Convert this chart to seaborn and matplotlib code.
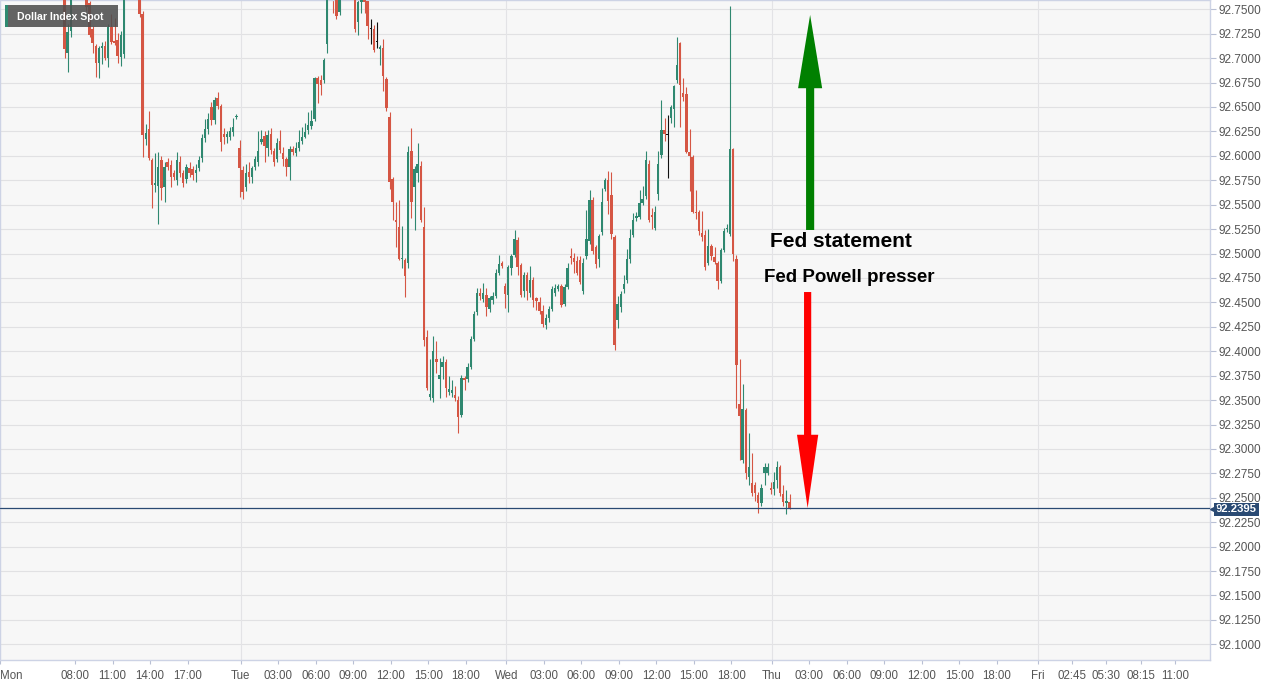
import numpy as np
import pandas as pd
import seaborn as sns
import matplotlib
matplotlib.use('Agg')
from matplotlib import pyplot as plt
from matplotlib.patches import Rectangle

sns.set_theme(style='white')
plt.rcParams['font.family'] = ['Liberation Sans', 'DejaVu Sans']

# 15 分钟K线 (Dollar Index Spot)
opens = [92.880, 92.876, 92.870, 92.864, 92.868, 92.861, 92.852, 92.857, 92.846, 92.838,
         92.842, 92.834, 92.823, 92.828, 92.815, 92.808, 92.812, 92.800, 92.793, 92.786,
         92.778, 92.705, 92.728, 92.770, 92.782, 92.790, 92.776, 92.774, 92.756, 92.730,
         92.712, 92.695, 92.710, 92.712, 92.700, 92.732, 92.718, 92.719, 92.701, 92.704,
         92.770, 92.784, 92.792, 92.782, 92.775, 92.745, 92.617, 92.627, 92.596, 92.570,
         92.569, 92.596, 92.568, 92.594, 92.591, 92.582, 92.575, 92.594, 92.582, 92.576,
         92.588, 92.587, 92.582, 92.588, 92.598, 92.618, 92.627, 92.650, 92.637, 92.659,
         92.651, 92.622, 92.619, 92.619, 92.624, 92.640, 92.608, 92.586, 92.568, 92.583,
         92.578, 92.589, 92.594, 92.614, 92.620, 92.608, 92.622, 92.605, 92.597, 92.615,
         92.603, 92.597, 92.589, 92.607, 92.603, 92.608, 92.615, 92.619, 92.626, 92.631,
         92.638, 92.680, 92.678, 92.678, 92.714, 92.765, 92.775, 92.770, 92.747, 92.765,
         92.780, 92.786, 92.772, 92.768, 92.737, 92.757, 92.775, 92.758, 92.730, 92.730,
         92.716, 92.709, 92.710, 92.679, 92.640, 92.576, 92.534, 92.527, 92.494, 92.493,
         92.490, 92.605, 92.568, 92.582, 92.590, 92.527, 92.415, 92.353, 92.352, 92.392,
         92.372, 92.384, 92.389, 92.358, 92.357, 92.355, 92.350, 92.335, 92.373, 92.372,
         92.384, 92.413, 92.440, 92.460, 92.453, 92.458, 92.443, 92.452, 92.457, 92.480,
         92.490, 92.467, 92.458, 92.485, 92.498, 92.514, 92.488, 92.462, 92.478, 92.460,
         92.473, 92.454, 92.450, 92.441, 92.427, 92.434, 92.443, 92.460, 92.464, 92.467,
         92.448, 92.466, 92.497, 92.495, 92.492, 92.493, 92.462, 92.497, 92.513, 92.555,
         92.507, 92.494, 92.522, 92.566, 92.575, 92.560, 92.517, 92.432, 92.445, 92.464,
         92.473, 92.494, 92.519, 92.536, 92.537, 92.552, 92.559, 92.592, 92.539, 92.526,
         92.561, 92.601, 92.626, 92.621, 92.639, 92.648, 92.678, 92.715, 92.664, 92.663,
         92.604, 92.599, 92.543, 92.542, 92.521, 92.519, 92.490, 92.508, 92.496, 92.490,
         92.472, 92.504, 92.525, 92.520, 92.607, 92.494, 92.346, 92.289, 92.340, 92.271,
         92.265, 92.263, 92.253, 92.245, 92.275, 92.275, 92.260, 92.259, 92.268, 92.281,
         92.254, 92.245, 92.246]
highs = [92.889, 92.884, 92.878, 92.871, 92.874, 92.866, 92.860, 92.862, 92.851, 92.846,
         92.848, 92.839, 92.832, 92.833, 92.822, 92.816, 92.818, 92.807, 92.801, 92.792,
         92.782, 92.735, 92.778, 92.788, 92.795, 92.796, 92.784, 92.780, 92.758, 92.733,
         92.714, 92.712, 92.716, 92.718, 92.735, 92.745, 92.741, 92.726, 92.728, 92.780,
         92.790, 92.798, 92.800, 92.788, 92.780, 92.748, 92.633, 92.646, 92.598, 92.603,
         92.604, 92.600, 92.594, 92.598, 92.596, 92.585, 92.604, 92.600, 92.585, 92.592,
         92.594, 92.590, 92.592, 92.600, 92.622, 92.638, 92.644, 92.655, 92.660, 92.665,
         92.653, 92.628, 92.625, 92.630, 92.639, 92.643, 92.616, 92.590, 92.592, 92.594,
         92.590, 92.600, 92.625, 92.626, 92.625, 92.626, 92.628, 92.608, 92.618, 92.626,
         92.609, 92.599, 92.610, 92.610, 92.614, 92.626, 92.630, 92.634, 92.645, 92.647,
         92.681, 92.682, 92.683, 92.700, 92.772, 92.782, 92.780, 92.775, 92.772, 92.785,
         92.792, 92.790, 92.782, 92.775, 92.762, 92.776, 92.780, 92.760, 92.740, 92.734,
         92.737, 92.713, 92.720, 92.681, 92.645, 92.578, 92.553, 92.555, 92.528, 92.495,
         92.610, 92.628, 92.590, 92.613, 92.595, 92.548, 92.422, 92.392, 92.416, 92.410,
         92.393, 92.395, 92.392, 92.375, 92.371, 92.364, 92.354, 92.376, 92.375, 92.388,
         92.416, 92.441, 92.465, 92.465, 92.470, 92.465, 92.457, 92.461, 92.484, 92.498,
         92.492, 92.470, 92.488, 92.500, 92.524, 92.517, 92.490, 92.481, 92.481, 92.487,
         92.476, 92.456, 92.456, 92.447, 92.438, 92.446, 92.467, 92.469, 92.469, 92.469,
         92.469, 92.490, 92.506, 92.501, 92.497, 92.497, 92.495, 92.545, 92.565, 92.558,
         92.509, 92.520, 92.567, 92.577, 92.584, 92.583, 92.519, 92.457, 92.462, 92.478,
         92.505, 92.525, 92.541, 92.542, 92.565, 92.569, 92.605, 92.596, 92.547, 92.549,
         92.605, 92.657, 92.639, 92.642, 92.652, 92.673, 92.722, 92.717, 92.680, 92.670,
         92.627, 92.601, 92.565, 92.545, 92.544, 92.524, 92.525, 92.510, 92.507, 92.492,
         92.506, 92.526, 92.530, 92.753, 92.608, 92.498, 92.392, 92.366, 92.342, 92.316,
         92.296, 92.266, 92.256, 92.264, 92.286, 92.286, 92.266, 92.276, 92.288, 92.284,
         92.263, 92.258, 92.254]
lows = [92.872, 92.866, 92.860, 92.855, 92.858, 92.848, 92.844, 92.842, 92.832, 92.829,
        92.830, 92.818, 92.815, 92.810, 92.802, 92.797, 92.795, 92.788, 92.781, 92.772,
        92.700, 92.686, 92.722, 92.764, 92.775, 92.771, 92.766, 92.748, 92.722, 92.705,
        92.681, 92.680, 92.694, 92.698, 92.691, 92.714, 92.713, 92.695, 92.692, 92.700,
        92.764, 92.776, 92.778, 92.768, 92.742, 92.599, 92.611, 92.596, 92.547, 92.563,
        92.530, 92.555, 92.553, 92.585, 92.568, 92.575, 92.570, 92.578, 92.568, 92.572,
        92.578, 92.575, 92.573, 92.584, 92.594, 92.614, 92.622, 92.632, 92.633, 92.648,
        92.605, 92.612, 92.613, 92.616, 92.620, 92.638, 92.558, 92.556, 92.564, 92.572,
        92.572, 92.586, 92.590, 92.612, 92.594, 92.600, 92.602, 92.590, 92.594, 92.603,
        92.590, 92.579, 92.575, 92.601, 92.600, 92.605, 92.612, 92.618, 92.622, 92.627,
        92.636, 92.654, 92.662, 92.675, 92.705, 92.760, 92.746, 92.740, 92.744, 92.762,
        92.770, 92.766, 92.763, 92.727, 92.724, 92.746, 92.746, 92.720, 92.714, 92.706,
        92.710, 92.693, 92.666, 92.646, 92.566, 92.534, 92.507, 92.493, 92.485, 92.455,
        92.485, 92.536, 92.524, 92.573, 92.532, 92.405, 92.360, 92.350, 92.348, 92.378,
        92.352, 92.372, 92.353, 92.355, 92.353, 92.349, 92.316, 92.333, 92.360, 92.369,
        92.382, 92.410, 92.437, 92.452, 92.450, 92.436, 92.440, 92.448, 92.454, 92.478,
        92.485, 92.444, 92.440, 92.478, 92.496, 92.478, 92.456, 92.455, 92.452, 92.456,
        92.445, 92.442, 92.438, 92.425, 92.423, 92.430, 92.441, 92.457, 92.462, 92.445,
        92.446, 92.464, 92.489, 92.480, 92.478, 92.469, 92.459, 92.494, 92.510, 92.500,
        92.485, 92.486, 92.519, 92.564, 92.540, 92.515, 92.401, 92.424, 92.440, 92.460,
        92.470, 92.490, 92.517, 92.533, 92.535, 92.550, 92.556, 92.532, 92.525, 92.524,
        92.555, 92.598, 92.615, 92.577, 92.634, 92.629, 92.675, 92.629, 92.656, 92.603,
        92.564, 92.541, 92.535, 92.519, 92.513, 92.483, 92.488, 92.493, 92.489, 92.464,
        92.470, 92.502, 92.522, 92.518, 92.492, 92.342, 92.289, 92.286, 92.269, 92.263,
        92.252, 92.247, 92.234, 92.242, 92.263, 92.273, 92.254, 92.253, 92.260, 92.252,
        92.242, 92.233, 92.239]
closes = [92.876, 92.870, 92.864, 92.868, 92.861, 92.852, 92.857, 92.846, 92.838, 92.842,
          92.834, 92.823, 92.828, 92.815, 92.808, 92.812, 92.800, 92.793, 92.786, 92.778,
          92.709, 92.727, 92.770, 92.782, 92.790, 92.776, 92.774, 92.752, 92.724, 92.715,
          92.695, 92.710, 92.712, 92.700, 92.732, 92.716, 92.715, 92.702, 92.724, 92.770,
          92.784, 92.792, 92.782, 92.775, 92.745, 92.621, 92.623, 92.598, 92.570, 92.572,
          92.589, 92.567, 92.589, 92.589, 92.578, 92.578, 92.596, 92.582, 92.572, 92.589,
          92.582, 92.580, 92.586, 92.596, 92.618, 92.627, 92.638, 92.637, 92.657, 92.651,
          92.614, 92.619, 92.622, 92.625, 92.630, 92.641, 92.588, 92.563, 92.582, 92.578,
          92.588, 92.597, 92.605, 92.617, 92.610, 92.621, 92.606, 92.594, 92.613, 92.606,
          92.597, 92.589, 92.607, 92.604, 92.608, 92.614, 92.619, 92.624, 92.632, 92.636,
          92.680, 92.674, 92.673, 92.698, 92.765, 92.775, 92.765, 92.743, 92.765, 92.780,
          92.786, 92.772, 92.768, 92.730, 92.757, 92.770, 92.757, 92.733, 92.730, 92.708,
          92.716, 92.711, 92.682, 92.649, 92.573, 92.553, 92.532, 92.494, 92.495, 92.477,
          92.604, 92.553, 92.587, 92.592, 92.534, 92.412, 92.362, 92.356, 92.400, 92.389,
          92.376, 92.389, 92.362, 92.361, 92.360, 92.352, 92.333, 92.373, 92.371, 92.384,
          92.413, 92.438, 92.460, 92.457, 92.460, 92.445, 92.454, 92.457, 92.480, 92.489,
          92.487, 92.459, 92.486, 92.497, 92.515, 92.486, 92.458, 92.478, 92.462, 92.473,
          92.452, 92.451, 92.441, 92.428, 92.434, 92.443, 92.464, 92.465, 92.467, 92.447,
          92.466, 92.485, 92.495, 92.491, 92.480, 92.471, 92.490, 92.515, 92.555, 92.503,
          92.489, 92.518, 92.553, 92.575, 92.554, 92.520, 92.406, 92.448, 92.459, 92.469,
          92.494, 92.516, 92.534, 92.538, 92.552, 92.556, 92.596, 92.534, 92.537, 92.543,
          92.592, 92.626, 92.622, 92.621, 92.650, 92.671, 92.693, 92.673, 92.660, 92.604,
          92.600, 92.543, 92.541, 92.523, 92.517, 92.486, 92.508, 92.497, 92.491, 92.472,
          92.504, 92.523, 92.526, 92.607, 92.500, 92.386, 92.334, 92.341, 92.275, 92.281,
          92.255, 92.255, 92.245, 92.260, 92.282, 92.282, 92.258, 92.266, 92.281, 92.255,
          92.246, 92.247, 92.2395]

last_price = 92.2395

# x轴: 每天 85 根K线 (00:00-21:15), 每小时 4 根
days = ['Mon', 'Tue', 'Wed', 'Thu', 'Fri']
day_hours = [[8, 11, 14, 17],
             [3, 6, 9, 12, 15, 18],
             [3, 6, 9, 12, 15, 18],
             [3, 6, 9, 12, 15, 18],
             [2.75, 5.5, 8.25, 11]]
hour_labels = [['08:00', '11:00', '14:00', '17:00'],
               ['03:00', '06:00', '09:00', '12:00', '15:00', '18:00'],
               ['03:00', '06:00', '09:00', '12:00', '15:00', '18:00'],
               ['03:00', '06:00', '09:00', '12:00', '15:00', '18:00'],
               ['02:45', '05:30', '08:15', '11:00']]

df = pd.DataFrame({'open': opens, 'high': highs, 'low': lows, 'close': closes})
df['idx'] = np.arange(len(df))

GREEN = '#2f8870'
RED = '#d55644'
col = np.where(df['close'] > df['open'], GREEN,
               np.where(df['close'] < df['open'], RED, '#111111'))

W, H = 1281, 687
fig = plt.figure(figsize=(W / 100, H / 100), dpi=100)
ax = fig.add_axes([0, 27 / H, 1210 / W, 660 / H])
ax.set_facecolor('#f7f7f7')

xmin, xmax = -0.64, -0.64 + 1210 / 3.125
ymax = 92.7595
ymin = ymax - 660 / 977
ax.set_xlim(xmin, xmax)
ax.set_ylim(ymin, ymax)

# 网格
yt = np.arange(92.1, 92.7501, 0.025)
for y in yt:
    ax.axhline(y, color='#e1e1e3', lw=0.8, zorder=0)
day_start = [-8.6 + 85 * d for d in range(len(days))]
for d in day_start[1:]:
    ax.axvline(d, color='#e3e3e6', lw=0.8, zorder=0)

# K线
ax.vlines(df['idx'], df['low'], df['high'], colors=col, lw=0.8, zorder=2)
body = np.maximum((df['close'] - df['open']).abs(), 0.0012)
ax.bar(df['idx'], body, bottom=np.minimum(df['open'], df['close']),
       width=0.78, color=col, lw=0, zorder=3)

# 最新价
ax.axhline(last_price, color='#2a4a73', lw=0.9, zorder=4)

# 坐标轴
ax.yaxis.tick_right()
ax.set_yticks(yt)
ax.set_yticklabels([f'{v:.4f}' for v in yt])
ticks, labels = [xmin], ['Mon']
for d in range(len(days)):
    if d > 0:
        ticks.append(day_start[d])
        labels.append(days[d])
    for h, lab in zip(day_hours[d], hour_labels[d]):
        ticks.append(day_start[d] + 4 * h)
        labels.append(lab)
ax.set_xticks(ticks)
ax.set_xticklabels(labels)
ax.get_xticklabels()[0].set_horizontalalignment('left')
ax.tick_params(axis='y', right=True, left=False, length=4, width=0.8, color='#b9c0d4',
               labelsize=8.5, labelcolor='#555555', pad=2)
ax.tick_params(axis='x', bottom=True, length=3, width=0.8, color='#b9c0d4',
               labelsize=8.3, labelcolor='#555555', pad=4)
for s in ax.spines.values():
    s.set_color('#cdd3e5')
    s.set_linewidth(1)
ax.grid(False)

# 箭头和注释
ax.arrow(258.6, 92.5241, 0, 92.7442 - 92.5241, width=2.6, head_width=7.7,
         head_length=0.075, length_includes_head=True, color='#008000', lw=0, zorder=5)
ax.arrow(257.8, 92.4606, 0, last_price - 92.4606, width=2.3, head_width=6.8,
         head_length=0.075, length_includes_head=True, color='#ff0000', lw=0, zorder=5)
ax.text(268.5, 92.5125, 'Fed statement', fontsize=15, fontweight='bold',
        ha='center', va='center', color='#000000', zorder=6)
ax.text(271.2, 92.4755, 'Fed Powell presser', fontsize=13.5, fontweight='bold',
        ha='center', va='center', color='#000000', zorder=6)

# 价格标签 (略低于线, 以免压住 92.2500)
ax.text(1.0 + 6 / 1210, last_price - 0.0012, f'{last_price:.4f}',
        transform=ax.get_yaxis_transform(), fontsize=8.2, fontweight='bold',
        color='white', ha='left', va='center',
        bbox=dict(boxstyle='square,pad=0.15', fc='#2a4a73', ec='none'), clip_on=False, zorder=7)
ax.plot([1.0 + 3 / 1210], [last_price - 0.0012], marker='<', ms=5, color='#2a4a73',
        transform=ax.get_yaxis_transform(), clip_on=False, zorder=7)

# 标题框
fig.add_artist(Rectangle((5 / W, 1 - 27 / H), 113 / W, 22 / H, transform=fig.transFigure,
                         fc='#4f4f4f', alpha=0.88, ec='none', zorder=10))
fig.add_artist(Rectangle((5 / W, 1 - 27 / H), 3 / W, 22 / H, transform=fig.transFigure,
                         fc='#2f8a70', ec='none', zorder=11))
fig.text(17 / W, 1 - 16.5 / H, 'Dollar Index Spot', fontsize=7.6, fontweight='bold',
         color='white', ha='left', va='center', zorder=12)

plt.savefig('out.png', dpi=100)
